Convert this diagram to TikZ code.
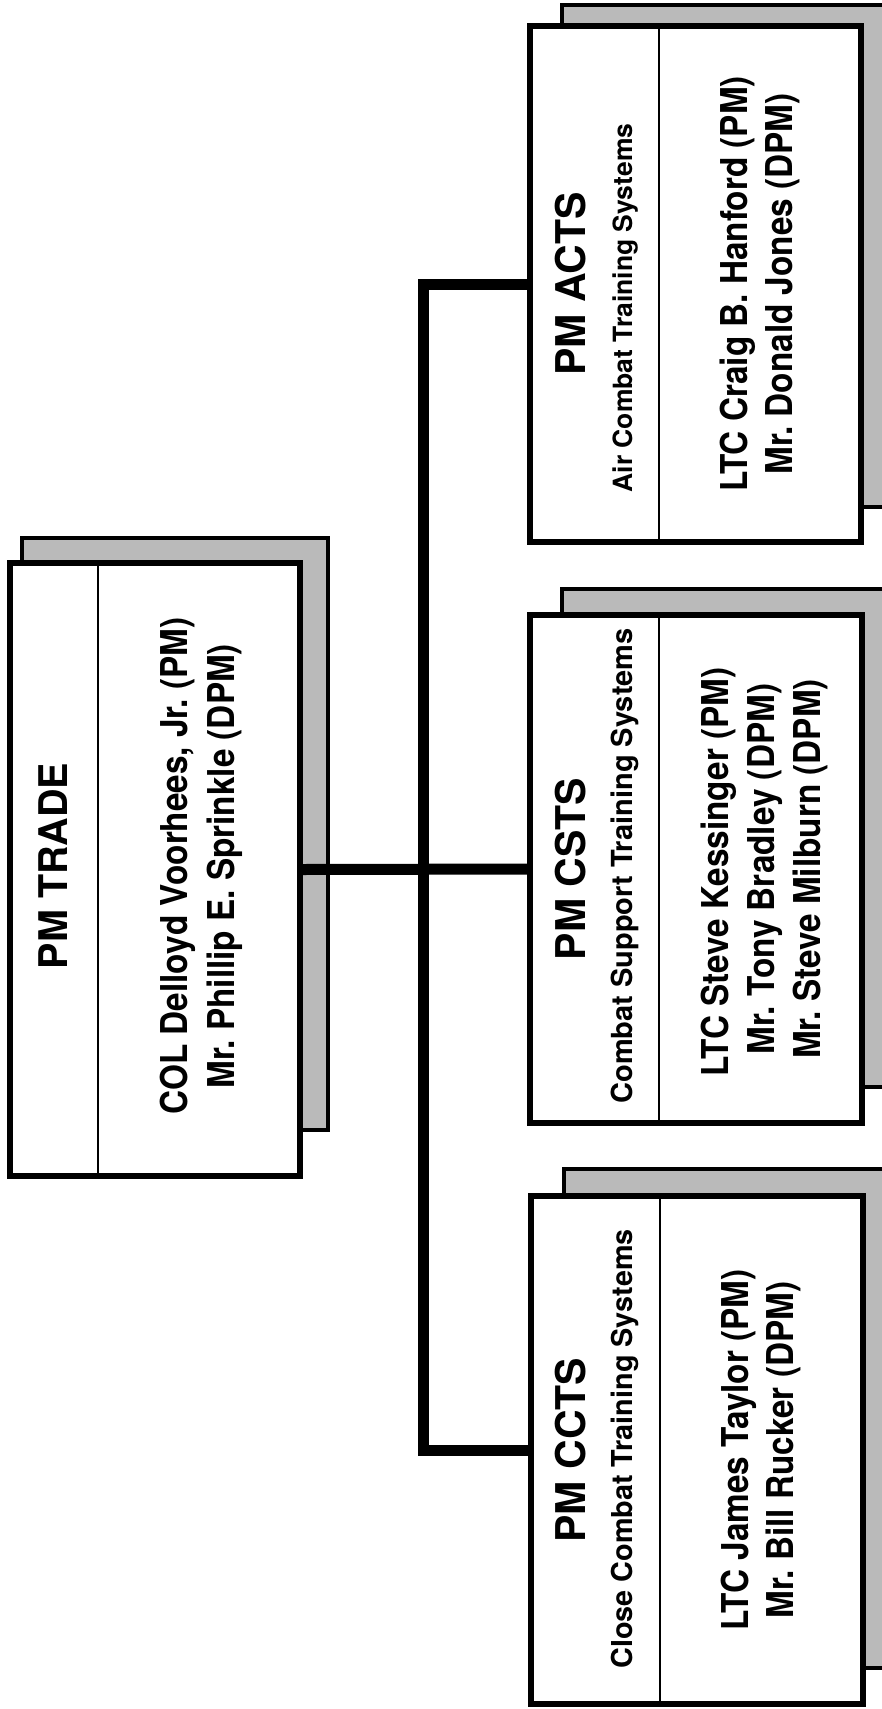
\documentclass[tikz,border=0pt]{standalone}
\usepackage{fontspec}
\setmainfont{TeX Gyre Heros}
\newfontfamily\namefont[FakeStretch=0.9]{TeX Gyre Heros}
\frenchspacing
\begin{document}
\frenchspacing
\begin{tikzpicture}[x=1pt,y=-1pt,
  shadowbox/.style={draw, line width=4pt, fill=black!27},
  mainbox/.style={draw, line width=6pt, fill=white, rectangle, inner sep=0pt, outer sep=0pt},
  divider/.style={line width=2.5pt},
  link/.style={line width=11pt},
  head/.style={rotate=90, anchor=base, inner sep=0pt, font=\fontsize{41}{41}\selectfont\bfseries},
  subt/.style={rotate=90, anchor=base, inner sep=0pt, font=\fontsize{#1}{#1}\selectfont\bfseries},
  subt/.default=29,
  person/.style={rotate=90, anchor=base, inner sep=0pt, font=\namefont\fontsize{37}{37}\selectfont\bfseries},
]
\useasboundingbox (0,0) rectangle (882,1709);
\fill[white] (0,0) rectangle (882,1709);

% shadows
\draw[shadowbox] (22,538) rectangle (328,1130);
\draw[shadowbox] (562,5) rectangle (900,507);
\draw[shadowbox] (562,589) rectangle (900,1087);
\draw[shadowbox] (564,1169) rectangle (900,1668);

% centres of the boxes
\coordinate (ctrade) at (155,869.5);
\coordinate (cacts) at (695.5,284);
\coordinate (ccsts) at (696,869);
\coordinate (cccts) at (697,1450);
\coordinate (trunk) at (423,869);

% main boxes
\node[mainbox, minimum width=290pt, minimum height=613pt] (trade) at (ctrade) {};
\node[mainbox, minimum width=331pt, minimum height=516pt] (acts) at (cacts) {};
\node[mainbox, minimum width=332pt, minimum height=508pt] (csts) at (ccsts) {};
\node[mainbox, minimum width=332pt, minimum height=508pt] (ccts) at (cccts) {};

% connectors
\draw[link] (acts.west) -- (acts.west -| trunk) |- (ccts.west);
\draw[link] (trade.east) -- (csts.west);

% redraw borders over connector ends
\draw[line width=6pt] (trade.north west) rectangle (trade.south east);
\draw[line width=6pt] (acts.north west) rectangle (acts.south east);
\draw[line width=6pt] (csts.north west) rectangle (csts.south east);
\draw[line width=6pt] (ccts.north west) rectangle (ccts.south east);

% dividers
\draw[divider] (98,566) -- (98,1173);
\draw[divider] (659,29) -- (659,539);
\draw[divider] (659,618) -- (659,1120);
\draw[divider] (660,1199) -- (660,1701);

% PM TRADE
\node[head, font=\fontsize{39.5}{39.5}\selectfont\bfseries] (tradeH) at (67,866) {PM TRADE};
\node[person] (tradeP1) at (187,866) {COL Delloyd Voorhees, Jr. (PM)};
\node[person] (tradeP2) at (234,866) {Mr. Phillip E. Sprinkle (DPM)};

% PM ACTS
\node[head] (actsH) at (585,284) {PM ACTS};
\node[subt=26.5] (actsS) at (632,308) {Air Combat Training Systems};
\node[person] (actsP1) at (747,284) {LTC Craig B. Hanford (PM)};
\node[person] (actsP2) at (792,284) {Mr. Donald Jones (DPM)};

% PM CSTS
\node[head] (cstsH) at (585,869) {PM CSTS};
\node[subt=29] (cstsS) at (632,866) {Combat Support Training Systems};
\node[person] (cstsP1) at (728,872) {LTC Steve Kessinger (PM)};
\node[person] (cstsP2) at (774,869) {Mr. Tony Bradley (DPM)};
\node[person] (cstsP3) at (820,869) {Mr. Steve Milburn (DPM)};

% PM CCTS
\node[head] (cctsH) at (585,1450) {PM CCTS};
\node[subt=28.8] (cctsS) at (632,1449) {Close Combat Training Systems};
\node[person] (cctsP1) at (748,1450) {LTC James Taylor (PM)};
\node[person] (cctsP2) at (793,1450) {Mr. Bill Rucker (DPM)};
\end{tikzpicture}
\end{document}
